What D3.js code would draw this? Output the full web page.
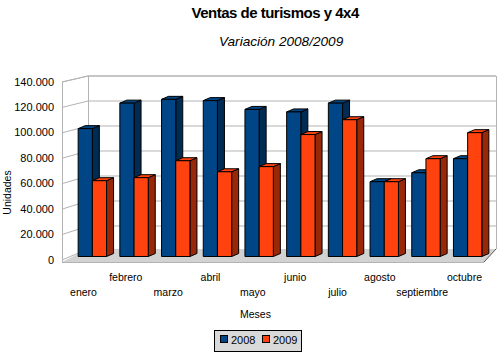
<!DOCTYPE html>
<html><head><meta charset="utf-8">
<script src="https://cdn.jsdelivr.net/npm/d3@7/dist/d3.min.js"></script>
<style>html,body{margin:0;padding:0;background:#fff}svg{display:block}text{font-family:"Liberation Sans",Arial,sans-serif;fill:#000}</style>
</head><body><svg id="c" width="500" height="360"></svg>
<script>
const meses=["enero","febrero","marzo","abril","mayo","junio","julio","agosto","septiembre","octubre"];
const v2008=[101700,122000,125000,124000,117000,115000,122000,59500,66600,77800];
const v2009=[60300,62700,76200,67400,71500,97000,108800,59500,77800,98500];
const yTicks=[0,20000,40000,60000,80000,100000,120000,140000];
const series=[{name:"2008",values:v2008,front:"#004586",side:"#002b53",top:"#004586"},
              {name:"2009",values:v2009,front:"#ff420e",side:"#992808",top:"#ff420e"}];
const svg=d3.select("#c");
const yBack=d3.scaleLinear().domain([0,140000]).range([251,76]);
const yFront=d3.scaleLinear().domain([0,140000]).range([260,82]);
const yBar=d3.scaleLinear().domain([0,140000]).range([256.5,80.5]);
const x=d3.scaleBand().domain(meses).range([71.5,488.5]);
const xLabel=d3.scalePoint().domain(meses).range([83.5,464.5]);
const fmt=v=>d3.format(",")(v).replace(/,/g,".");
const grid="#b3b3b3";
const L=62,BL=88,BR=496,FR=484;
svg.append("path").attr("d",`M${L},${yFront(0)+2}L${BL},${yBack(0)-2}L${BR},${yBack(0)-2}L${FR},${yFront(0)+2}Z`).attr("fill","#d2d2d2");
svg.append("path").attr("d",`M${L},${yFront(140000)}L${BL},${yBack(140000)}L${BR},${yBack(140000)}`).attr("fill","none").attr("stroke",grid);
svg.append("line").attr("x1",L+.5).attr("x2",L+.5).attr("y1",yFront(140000)).attr("y2",yFront(0)+2).attr("stroke",grid);
svg.append("line").attr("x1",BL+.5).attr("x2",BL+.5).attr("y1",yBack(140000)).attr("y2",yBack(0)-2).attr("stroke",grid);
svg.append("line").attr("x1",BR+.5).attr("x2",BR+.5).attr("y1",yBack(140000)).attr("y2",yBack(0)-2).attr("stroke",grid);
svg.append("line").attr("x1",L).attr("x2",FR).attr("y1",yFront(0)+2.5).attr("y2",yFront(0)+2.5).attr("stroke",grid);
svg.append("line").attr("x1",FR).attr("x2",BR).attr("y1",yFront(0)+2).attr("y2",yBack(0)-2).attr("stroke","#555");
svg.append("g").selectAll("path").data(yTicks.slice(1)).join("path")
  .attr("d",d=>`M${L},${yFront(d)}L${BL},${yBack(d)}L${BR},${yBack(d)}`).attr("fill","none").attr("stroke",grid);
svg.append("path").attr("d",`M${L},${yFront(0)}L${BL},${yBack(0)-2}`).attr("stroke",grid).attr("fill","none");
svg.selectAll(".yl").data(yTicks).join("text").attr("class","yl").attr("x",54).attr("y",d=>yFront(d)+3.5)
  .attr("text-anchor","end").attr("font-size",11).text(fmt);
const bw=14.2,dx=7,dy=3;
meses.forEach((m,i)=>{
  const cx=x(m)+x.bandwidth()/2;
  series.forEach((s,k)=>{
    const x0=cx-bw+k*bw, x1=x0+bw, y0=yBar(0), y1=yBar(s.values[i]);
    const bg=svg.append("g").attr("stroke","#000").attr("stroke-linejoin","round");
    bg.append("path").attr("d",`M${x1},${y0}L${x1+dx},${y0-dy}L${x1+dx},${y1-dy}L${x1},${y1}Z`).attr("fill",s.side);
    bg.append("path").attr("d",`M${x0},${y1}L${x0+dx},${y1-dy}L${x1+dx},${y1-dy}L${x1},${y1}Z`).attr("fill",s.top);
    bg.append("rect").attr("x",x0).attr("y",y1).attr("width",bw).attr("height",y0-y1).attr("fill",s.front);
  });
});
svg.selectAll(".xl").data(meses).join("text").attr("class","xl")
  .attr("x",d=>xLabel(d)).attr("y",(d,i)=>i%2?281:296)
  .attr("text-anchor","middle").attr("font-size",10.5).text(d=>d);
svg.append("text").attr("x",191.5).attr("y",17.5).attr("font-size",15).attr("letter-spacing",-0.5).attr("font-weight","bold").text("Ventas de turismos y 4x4");
svg.append("text").attr("x",219).attr("y",46).attr("font-size",13.6).attr("font-style","italic").text("Variación 2008/2009");
svg.append("text").attr("x",255.5).attr("y",318).attr("text-anchor","middle").attr("font-size",10.5).text("Meses");
svg.append("text").attr("transform","translate(11,192.5) rotate(-90)").attr("text-anchor","middle").attr("font-size",10.5).text("Unidades");
svg.append("rect").attr("x",214.5).attr("y",330.5).attr("width",87).attr("height",21).attr("fill","#d9d9d9").attr("stroke","#000");
series.forEach((s,k)=>{
  const lx=[220.5,262.5][k];
  svg.append("rect").attr("x",lx).attr("y",335.5).attr("width",7).attr("height",7).attr("fill",s.front).attr("stroke","#000");
  svg.append("text").attr("x",lx+10.5).attr("y",344).attr("font-size",11).text(s.name);
});
</script></body></html>
